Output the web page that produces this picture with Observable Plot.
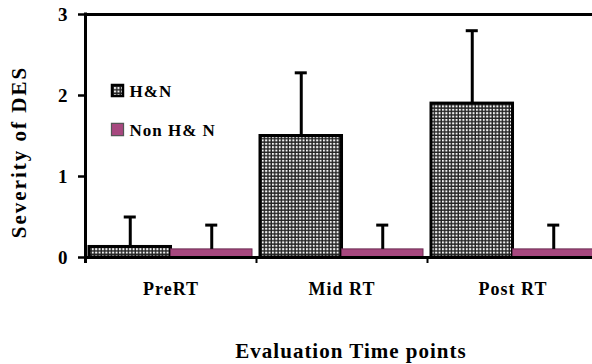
<!DOCTYPE html>
<html>
<head>
<meta charset="utf-8">
<script src="https://cdn.jsdelivr.net/npm/d3@7"></script>
<script src="https://cdn.jsdelivr.net/npm/@observablehq/plot@0.6"></script>
<style>
  html, body { margin: 0; padding: 0; background: #fff; overflow: hidden; width: 592px; height: 364px; }
  #chart svg { max-width: none !important; height: 364px !important; }
  svg text { font-family: "Liberation Serif", "Times New Roman", serif !important; }
</style>
</head>
<body>
<div id="chart"></div>
<script>
const groups = ["PreRT", "Mid RT", "Post RT"];
const series = ["H&N", "Non H& N"];
const hnMean = [0.13, 1.5, 1.9];
const hnErr = [0.37, 0.78, 0.9];
const nonMean = [0.1, 0.1, 0.1];
const nonErr = [0.3, 0.3, 0.3];
const yTicks = [0, 1, 2, 3];

const rows = [];
groups.forEach((g, i) => {
  rows.push({group: g, series: series[0], mean: hnMean[i], top: hnMean[i] + hnErr[i]});
  rows.push({group: g, series: series[1], mean: nonMean[i], top: nonMean[i] + nonErr[i]});
});
const hn = rows.filter(d => d.series === series[0]);
const non = rows.filter(d => d.series === series[1]);

const W = 600, H = 364, ML = 85, MR = 2, MT = 14, MB = 107;
const PI = 0.047, PO = 0.0235;
const step = (W - ML - MR) / (groups.length - PI + 2 * PO);
const bw = step * (1 - PI);
const half = bw / 2;
const outer = step * PO;
const capW = 12, stemW = 3;

const font = "'Liberation Serif', 'Times New Roman', serif";
const pink = "#a7487f";

const plot = Plot.plot({
  width: W, height: H,
  marginLeft: ML, marginRight: MR, marginTop: MT, marginBottom: MB,
  style: {fontFamily: font, fontWeight: "bold", letterSpacing: "1px", color: "#000", background: "#fff", maxWidth: "none"},
  x: {domain: groups, paddingInner: PI, paddingOuter: PO, label: null},
  y: {domain: [0, 3], label: null},
  marks: [
    Plot.barY(hn, {x: "group", y: "mean", fill: "url(#hnpat)", stroke: "#000", strokeWidth: 3, insetRight: half}),
    Plot.barY(non, {x: "group", y: "mean", fill: pink, stroke: "#6a2c52", strokeWidth: 1, insetLeft: half}),
    Plot.ruleX(hn, {x: "group", y1: "mean", y2: "top", dx: -half / 2, stroke: "#000", strokeWidth: stemW}),
    Plot.ruleX(non, {x: "group", y1: "mean", y2: "top", dx: half / 2, stroke: "#000", strokeWidth: stemW}),
    Plot.tickY(hn, {x: "group", y: "top", stroke: "#000", strokeWidth: 3,
      insetLeft: half / 2 - capW / 2, insetRight: bw - half / 2 - capW / 2}),
    Plot.tickY(non, {x: "group", y: "top", stroke: "#000", strokeWidth: 3,
      insetLeft: half + half / 2 - capW / 2, insetRight: half / 2 - capW / 2}),
    Plot.ruleY([0], {stroke: "#000", strokeWidth: 3}),
    Plot.ruleY([3], {stroke: "#000", strokeWidth: 3}),
    Plot.ruleX(groups.slice(0, 1), {x: d => d, y1: 3, y2: 0, dx: -half - outer, stroke: "#000", strokeWidth: 3, insetTop: -1.5, insetBottom: -6}),
    Plot.ruleX(groups.slice(1), {x: d => d, y1: 0, y2: 0, dx: -half - outer, stroke: "#000", strokeWidth: 2, insetBottom: -6}),
    Plot.axisY({ticks: yTicks, tickFormat: d => d, tickSize: 7, tickPadding: 10, strokeWidth: 2.5, fontSize: 19, fontWeight: "bold", fontFamily: font, label: null}),
    Plot.axisX({tickSize: 0, tickPadding: 25, fontSize: 18, fontWeight: "bold", fontFamily: font, label: null}),
    Plot.text(["Evaluation Time points"], {frameAnchor: "bottom", dy: 94, dx: 9, fontSize: 21, fontWeight: "bold", fontFamily: font, lineAnchor: "middle"}),
    Plot.text(["Severity of DES"], {frameAnchor: "left", textAnchor: "middle", dx: -66, dy: 16, rotate: -90, fontSize: 21, fontWeight: "bold", fontFamily: font, lineAnchor: "middle"}),
    Plot.dot([series[0]], {frameAnchor: "top-left", dx: 32, dy: 76, symbol: "square", r: 6.2, fill: "url(#hnpat)", stroke: "#000", strokeWidth: 2.5}),
    Plot.dot([series[1]], {frameAnchor: "top-left", dx: 32, dy: 115, symbol: "square", r: 6.8, fill: pink, stroke: "#555", strokeWidth: 1.2}),
    Plot.text([series[0]], {text: d => d, frameAnchor: "top-left", dx: 44, dy: 77, fontSize: 17, fontWeight: "bold", fontFamily: font, textAnchor: "start", lineAnchor: "middle"}),
    Plot.text([series[1]], {text: d => d, frameAnchor: "top-left", dx: 44, dy: 116, fontSize: 17, fontWeight: "bold", fontFamily: font, textAnchor: "start", lineAnchor: "middle"})
  ]
});

const ns = "http://www.w3.org/2000/svg";
const defs = document.createElementNS(ns, "defs");
const pat = document.createElementNS(ns, "pattern");
pat.setAttribute("id", "hnpat");
pat.setAttribute("patternUnits", "userSpaceOnUse");
pat.setAttribute("width", "3.4");
pat.setAttribute("height", "3.4");
const r1 = document.createElementNS(ns, "rect");
r1.setAttribute("width", "3.4"); r1.setAttribute("height", "3.4"); r1.setAttribute("fill", "#222");
const r2 = document.createElementNS(ns, "rect");
r2.setAttribute("width", "2"); r2.setAttribute("height", "2"); r2.setAttribute("fill", "#f4f4f4");
pat.appendChild(r1); pat.appendChild(r2); defs.appendChild(pat);
plot.insertBefore(defs, plot.firstChild);

d3.select(plot).selectAll("text").filter(function () { return this.textContent === "Severity of DES"; }).style("letter-spacing", "2px");

document.getElementById("chart").appendChild(plot);
</script>
</body>
</html>
